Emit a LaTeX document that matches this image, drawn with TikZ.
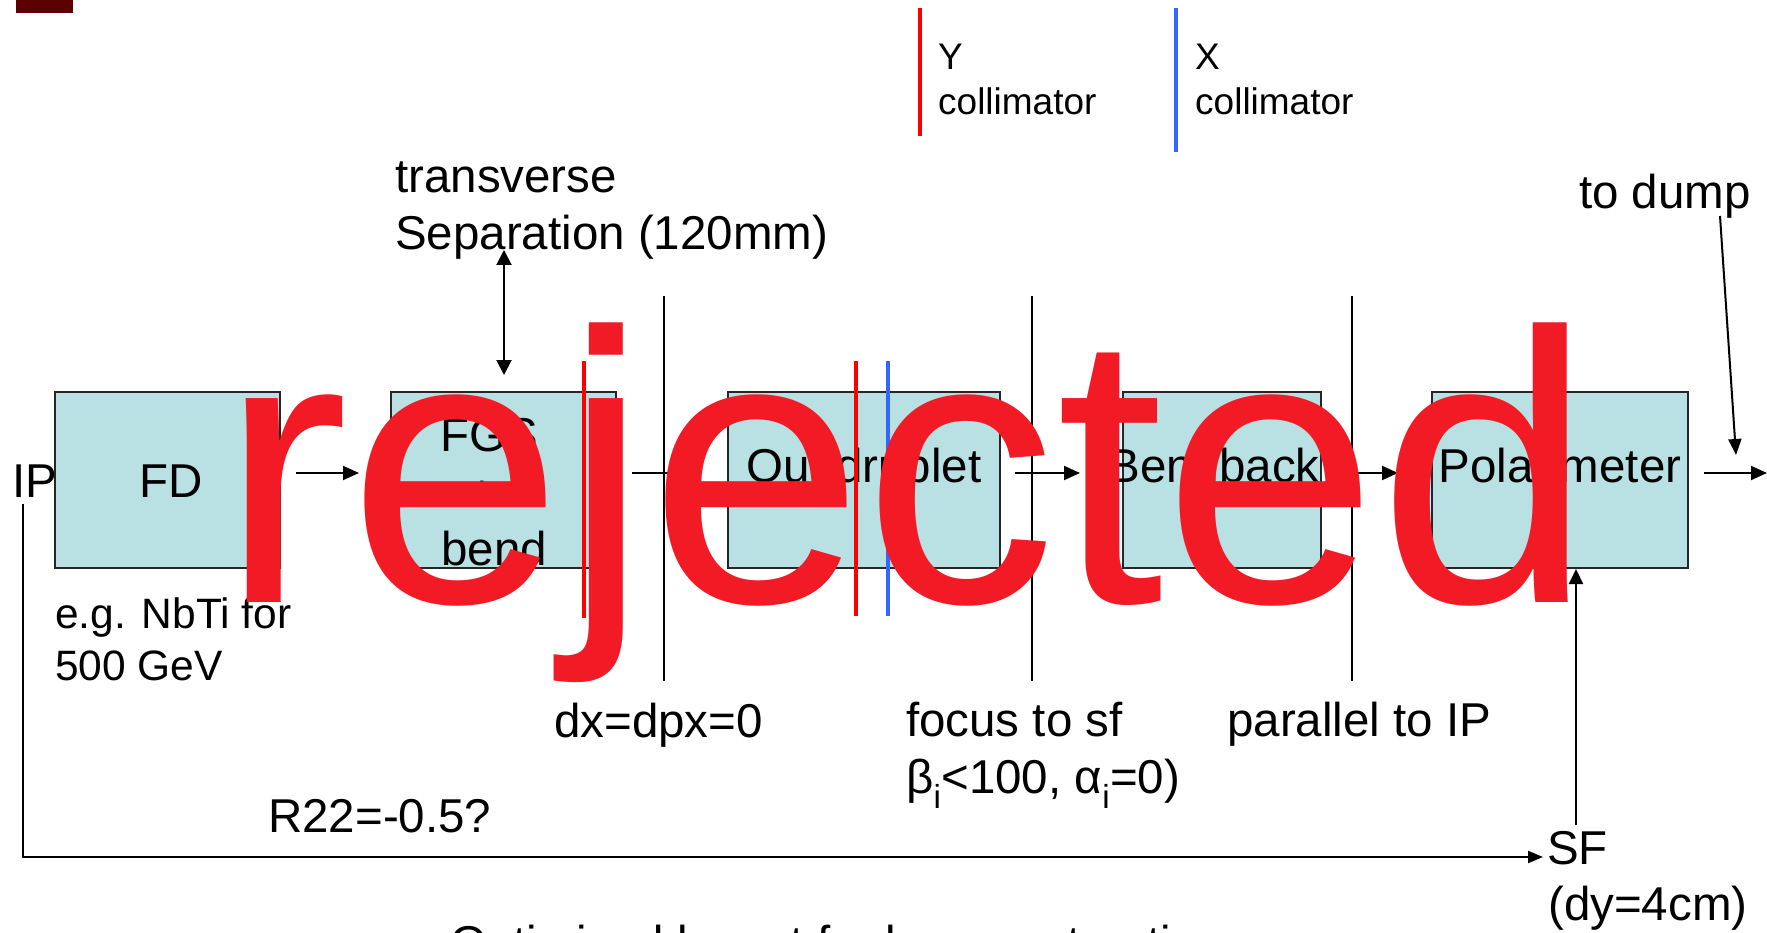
\documentclass[tikz,border=0pt]{standalone}
\usepackage{fontspec}
\setmainfont{Liberation Sans}
\usetikzlibrary{arrows.meta}
\definecolor{boxfill}{RGB}{185,224,227}
\definecolor{rejred}{RGB}{242,26,36}
\definecolor{colred}{RGB}{255,0,0}
\definecolor{colblue}{RGB}{51,102,255}
\definecolor{darkmaroon}{RGB}{92,0,0}
\newcommand\fsMain{\fontsize{47.5}{57}\selectfont}
\newcommand\fsMid{\fontsize{42.5}{52}\selectfont}
\newcommand\fsLeg{\fontsize{37}{45}\selectfont}
\begin{document}
\begin{tikzpicture}[x=1pt,y=-1pt,
  box/.style={draw=black!85,line width=2pt,fill=boxfill,minimum height=176pt,inner sep=0pt},
  txt/.style={inner sep=0pt,font=\fsMain},
  midtxt/.style={inner sep=0pt,font=\fsMid},
  legtxt/.style={inner sep=0pt,font=\fsLeg},
  flow/.style={line width=2pt,-{Triangle[length=16pt,width=14pt]}},
  dbl/.style={line width=2pt,{Triangle[length=15pt,width=15pt]}-{Triangle[length=15pt,width=15pt]}},
  sep/.style={line width=1.8pt},
  colr/.style={line width=4.5pt,draw=colred},
  colb/.style={line width=4.5pt,draw=colblue}]
\useasboundingbox (0,0) rectangle (1767,933);
\fill[white] (0,0) rectangle (1767,933);
% corner mark
\fill[darkmaroon] (16,0) rectangle (73,13);
% legend
\draw[colr] (920,8) -- (920,136);
\draw[colb] (1176,8) -- (1176,152);
\node[legtxt,anchor=base west] (legy) at (938,70) {Y};
\node[legtxt,anchor=base west] (legyc) at (938,115) {collimator};
\node[legtxt,anchor=base west] (legx) at (1195,70) {X};
\node[legtxt,anchor=base west] (legxc) at (1195,115) {collimator};
% separators
\draw[sep] (664,296) -- (664,681);
\draw[sep] (1032,296) -- (1032,681);
\draw[sep] (1352,296) -- (1352,681);
% boxes
\node[box,minimum width=225pt] (fd) at (167.5,480) {};
\node[box,minimum width=225pt] (fgs) at (503.5,480) {};
\node[box,minimum width=272pt] (quad) at (864,480) {};
\node[box,minimum width=198pt] (bend) at (1222,480) {};
\node[box,minimum width=256pt] (pol) at (1560,480) {};
% box texts
\node[txt,anchor=base] (fdt) at (171,497) {FD};
\node[txt,anchor=base west] (fgst1) at (440,451) {FGS};
\node[txt,anchor=base] (fgst2) at (482,508) {+};
\node[txt,anchor=base west] (fgst3) at (441,565) {bend};
\node[txt,anchor=base] (quadt) at (quad.center |- 0,482) {Quadruplet};
\node[txt,anchor=base] (bendt) at (1214,482) {Bendback};
\node[txt,anchor=base] (polt) at (pol.center |- 0,482) {Polarimeter};
% collimators on beam line
\draw[colr] (584,361) -- (584,618);
\draw[colr] (856,361) -- (856,616);
\draw[colb] (888,361) -- (888,616);
% flow arrows
\coordinate (a1s) at (296,473); \coordinate (a1e) at (359,473);
\coordinate (a2s) at (632,473); \coordinate (a2e) at (696,473);
\coordinate (a3s) at (1015,473); \coordinate (a3e) at (1080,473);
\coordinate (a4s) at (1337,473); \coordinate (a4e) at (1398,473);
\coordinate (a5s) at (1704,473); \coordinate (a5e) at (1767,473);
\draw[flow] (a1s) -- (a1e);
\draw[flow] (a2s) -- (a2e);
\draw[flow] (a3s) -- (a3e);
\draw[flow] (a4s) -- (a4e);
\draw[flow] (a5s) -- (a5e);
% IP
\node[txt,anchor=base west] (ip) at (12,497) {IP};
\node[txt,anchor=base west] (sf) at (1547,864) {SF};
\node[txt,anchor=base west] (sfdy) at (1548,920) {(dy=4cm)};
\coordinate (ipl) at (23,504);
\coordinate (ipc) at (23,857);
\coordinate (sfin) at (1543,857);
\draw[line width=2pt,-{Triangle[length=15pt,width=12pt]}] (ipl) -- (ipc) -- (sfin);
\coordinate (sfup) at (1576,825);
\coordinate (polin) at (1576,569);
\draw[line width=2pt,-{Triangle[length=15pt,width=14pt]}] (sfup) -- (polin);
% transverse separation
\node[txt,anchor=base west] (tr1) at (395,193) {transverse};
\node[txt,anchor=base west] (tr2) at (395,250) {Separation (120mm)};
\coordinate (dtop) at (504,250);
\coordinate (dbot) at (504,375);
\draw[dbl] (dtop) -- (dbot);
% to dump
\node[txt,anchor=base west] (dump) at (1579,209) {to dump};
\coordinate (dumps) at (1720,216);
\coordinate (dumpe) at (1736,455);
\draw[line width=2pt,-{Triangle[length=16pt,width=13pt]}] (dumps) -- (dumpe);
% lower labels
\node[midtxt,anchor=base west] (eg1) at (55,628) {e.g. NbTi for};
\node[midtxt,anchor=base west] (eg2) at (55,680) {500 GeV};
\node[txt,anchor=base west] (dx) at (554,737) {dx=dpx=0};
\node[txt,anchor=base west] (foc1) at (906,736) {focus to sf};
\node[txt,anchor=base west] (foc2) at (906,793) {β\textsubscript{i}<100, α\textsubscript{i}=0)};
\node[txt,anchor=base west] (par) at (1227,736) {parallel to IP};
\node[txt,anchor=base west] (r22) at (268,832) {R22=-0.5?};
% bottom title (cut off)
\node[txt,anchor=base west] (title) at (450,959) {Optimized layout for beam extraction};
% overlay
\node[anchor=base west,inner sep=0pt,text=rejred,font=\fontsize{386}{400}\selectfont] (rej) at (220,602) {rejected};
\end{tikzpicture}
\end{document}
